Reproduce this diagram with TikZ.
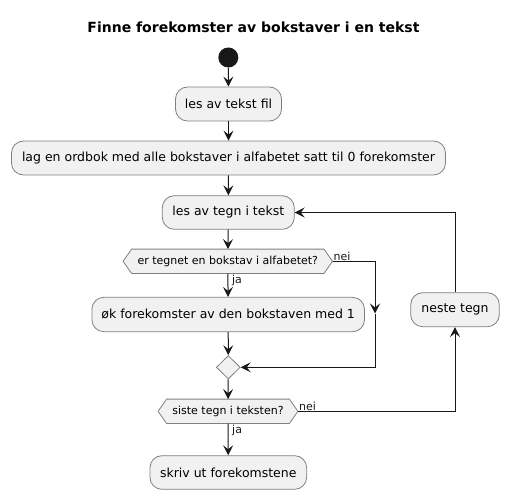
\documentclass[tikz,border=0pt]{standalone}
\usepackage{fontspec}
\setmainfont{DejaVu Sans}
\usetikzlibrary{arrows.meta,calc,shapes.geometric}
\definecolor{boxfill}{HTML}{F1F1F1}
\definecolor{boxline}{HTML}{808080}
\definecolor{ink}{HTML}{181818}
\tikzset{
  act/.style={draw=boxline, fill=boxfill, line width=0.8bp, rounded corners=12bp,
    inner sep=0pt, align=center, font=\fontsize{12.5bp}{14bp}\selectfont},
  hexlbl/.style={inner sep=0pt, font=\fontsize{11bp}{13bp}\selectfont},
  hexshape/.style={draw=boxline, fill=boxfill, line width=0.8bp},
  flow/.style={draw=ink, line width=1bp, -{Stealth[length=10bp,width=10bp,inset=4bp]}},
  plain/.style={draw=ink, line width=1bp},
  lbl/.style={inner sep=0pt, font=\fontsize{11bp}{13bp}\selectfont, text=ink},
}
\begin{document}
\begin{tikzpicture}[x=1bp,y=-1bp]
\useasboundingbox (0,0) rectangle (509,499);
\node (title) at (253.5,27.5) {\fontsize{14bp}{16bp}\selectfont\bfseries Finne forekomster av bokstaver i en tekst};
\node[circle, fill=ink, minimum size=20bp, inner sep=0pt] (start) at (228.3,57.5) {};
\node[act, minimum width=106bp, minimum height=34bp] (b1) at (228.5,104) {les av tekst fil};
\node[act, minimum width=434bp, minimum height=34bp] (b2) at (228.5,158) {lag en ordbok med alle bokstaver i alfabetet satt til 0 forekomster};
\node[act, minimum width=132bp, minimum height=33.6bp] (b3) at (228.3,212.5) {les av tegn i tekst};
% hexagon 1
\node[hexlbl, minimum width=209bp, minimum height=24bp] (h1) at (227.8,261.3) {};
\draw[hexshape] (h1.west) -- ($(h1.north west)+(8.5,0)$) -- ($(h1.north east)+(-8.5,0)$) -- (h1.east)
  -- ($(h1.south east)+(-8.5,0)$) -- ($(h1.south west)+(8.5,0)$) -- cycle;
\node[hexlbl] (h1t) at (h1) {er tegnet en bokstav i alfabetet?};
\node[act, minimum width=272.6bp, minimum height=34.4bp] (b4) at (228.2,314.5) {øk forekomster av den bokstaven med 1};
\node[draw=boxline, fill=boxfill, line width=0.8bp, diamond, minimum width=24bp, minimum height=23.5bp, inner sep=0pt, shape aspect=1] (m) at (228.3,367.3) {};
% hexagon 2
\node[hexlbl, minimum width=139.4bp, minimum height=24bp] (h2) at (228,411.3) {};
\draw[hexshape] (h2.west) -- ($(h2.north west)+(8.5,0)$) -- ($(h2.north east)+(-8.5,0)$) -- (h2.east)
  -- ($(h2.south east)+(-8.5,0)$) -- ($(h2.south west)+(8.5,0)$) -- cycle;
\node[hexlbl] (h2t) at (h2) {siste tegn i teksten?};
\node[act, minimum width=156.7bp, minimum height=33.6bp] (b5) at (228.3,472.5) {skriv ut forekomstene};
\node[act, minimum width=88.6bp, minimum height=34bp] (nt) at (455,309.7) {neste tegn};
% connectors
\draw[flow] (start) -- (b1);
\draw[flow] (b1) -- (b2);
\draw[flow] (b2) -- (b3);
\draw[flow] (b3) -- (h1);
\draw[flow] (h1) -- (b4);
\draw[flow] (b4) -- (m);
\draw[flow] (m) -- (h2);
\draw[flow] (h2) -- (b5);
\coordinate (r1) at (375,313.5);
\draw[flow] (h1.east) -| (r1);
\draw[flow] (r1) |- (m.east);
\draw[flow] (h2.east) -| (nt.south);
\draw[flow] (nt.north) |- (b3.east);
% labels
\node[lbl, anchor=south west] at ($(h1.east)+(1,-0.5)$) {nei};
\node[lbl, anchor=north west] at ($(h1.south)+(4,1.5)$) {ja};
\node[lbl, anchor=south west] at ($(h2.east)+(1,-0.5)$) {nei};
\node[lbl, anchor=north west] at ($(h2.south)+(4,1.5)$) {ja};
\end{tikzpicture}
\end{document}
